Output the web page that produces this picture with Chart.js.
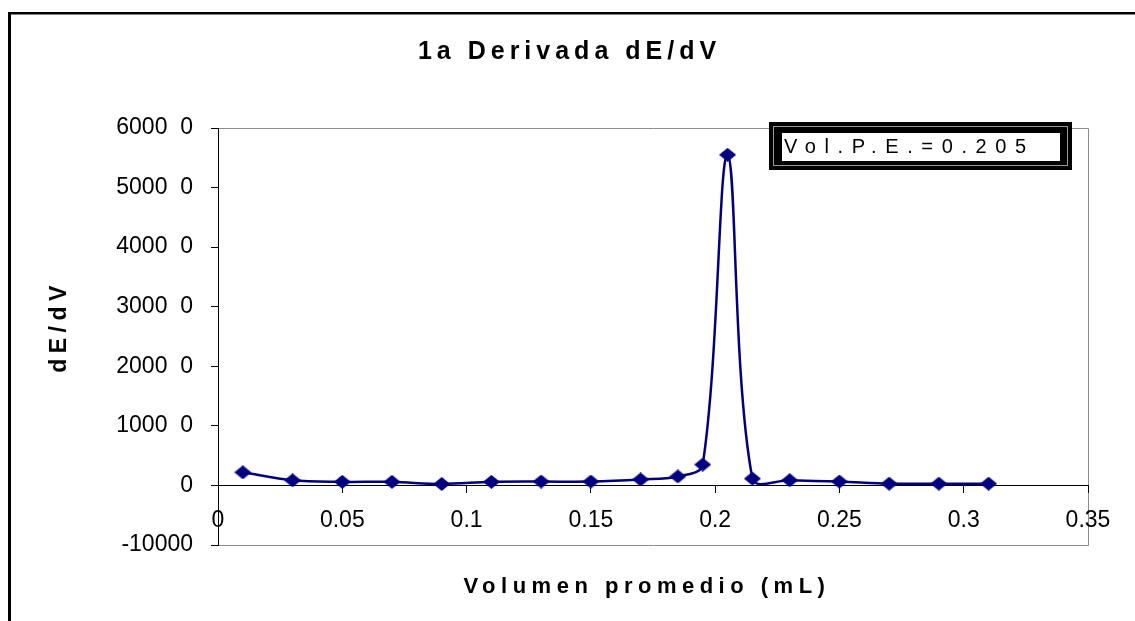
<!DOCTYPE html>
<html>
<head>
<meta charset="utf-8">
<script src="https://cdn.jsdelivr.net/npm/chart.js@4/dist/chart.umd.min.js"></script>
<style>
html, body { margin: 0; padding: 0; background: #ffffff; }
#wrap { width: 1135px; height: 621px; position: relative; }
canvas { display: block; }
</style>
</head>
<body>
<div id="wrap"><canvas id="chart" width="1135" height="621"></canvas></div>
<script>
// ---- data ----
const volumes = [0.01, 0.03, 0.05, 0.07, 0.09, 0.11, 0.13, 0.15, 0.17, 0.185, 0.195, 0.205, 0.215, 0.23, 0.25, 0.27, 0.29, 0.31];
const dEdV    = [2200, 850, 600, 600, 250, 600, 650, 650, 1000, 1500, 3500, 55500, 1150, 870, 650, 300, 300, 300];

const xTickValues = [0, 0.05, 0.1, 0.15, 0.2, 0.25, 0.3, 0.35];
const xTickLabels = ['0', '0.05', '0.1', '0.15', '0.2', '0.25', '0.3', '0.35'];
const yTickValues = [-10000, 0, 10000, 20000, 30000, 40000, 50000, 60000];
const yTickLabels = ['-10000', '0', '1000  0', '2000  0', '3000  0', '4000  0', '5000  0', '6000  0'];

const chartTitle = '1a Derivada dE/dV';
const xAxisTitle = 'Volumen promedio (mL)';
const yAxisTitle = 'dE/dV';
const annotationText = 'Vol.P.E.=0.205';

// ---- styling ----
const FONT = "'Liberation Sans', Arial, Helvetica, sans-serif";
const NAVY = '#000080';
const SPACING = { title: '5px', x: '5.5px', y: '5.5px', note: '8.6px' };
const TITLE_SHIFT = { x: [-6, 0], y: [0, -10] };

function labelFor(values, labels, v) {
  const i = values.findIndex(t => Math.abs(t - v) < 1e-9);
  return i >= 0 ? labels[i] : '';
}

// letter-spaced titles (the reference uses widely spaced lettering)
if (Chart.Title && Chart.Title._element) {
  const T = Chart.Title._element.prototype;
  const od = T.draw;
  T.draw = function () {
    const ctx = this.ctx;
    ctx.save();
    ctx.letterSpacing = SPACING.title;
    ctx.translate(2, 0);
    od.apply(this, arguments);
    ctx.restore();
  };
}
{
  const S = Chart.Scale.prototype;
  const odt = S.drawTitle;
  S.drawTitle = function () {
    const ctx = this.ctx;
    const ax = this.axis === 'x' ? 'x' : 'y';
    ctx.save();
    ctx.letterSpacing = SPACING[ax];
    ctx.translate(TITLE_SHIFT[ax][0], TITLE_SHIFT[ax][1]);
    odt.apply(this, arguments);
    ctx.restore();
  };
}

// diamond marker
function makeDiamond(w, h, color) {
  const c = document.createElement('canvas');
  c.width = w; c.height = h;
  const g = c.getContext('2d');
  g.fillStyle = color;
  g.beginPath();
  g.moveTo(w / 2, 0);
  g.lineTo(w, h / 2);
  g.lineTo(w / 2, h);
  g.lineTo(0, h / 2);
  g.closePath();
  g.fill();
  return c;
}
const diamond = makeDiamond(17, 14, NAVY);

const framePlugin = {
  id: 'frame',
  beforeDraw(chart) {
    const ctx = chart.ctx;
    const a = chart.chartArea;
    ctx.save();
    ctx.fillStyle = '#ffffff';
    ctx.fillRect(0, 0, chart.width, chart.height);
    // outer chart frame (runs off the right and bottom of the picture)
    ctx.fillStyle = '#000000';
    ctx.fillRect(8, 12, 3, chart.height);
    ctx.fillRect(8, 12, chart.width, 2.5);
    // plot-area frame: top, right, bottom in grey
    ctx.strokeStyle = '#8c8c8c';
    ctx.lineWidth = 1;
    ctx.beginPath();
    const l = Math.round(a.left) + 0.5, r = Math.round(a.right) + 0.5;
    const t = Math.round(a.top) + 0.5, b = Math.round(a.bottom) + 0.5;
    ctx.moveTo(l, t); ctx.lineTo(r, t); ctx.lineTo(r, b); ctx.lineTo(l, b);
    ctx.stroke();
    ctx.restore();
  },
  afterDraw(chart) {
    const ctx = chart.ctx;
    const a = chart.chartArea;
    const right = a.right - 16, top = a.top - 6;
    const w = 303, h = 48, left = right - w;
    ctx.save();
    ctx.fillStyle = '#000000';
    ctx.fillRect(left, top, w, h);
    ctx.strokeStyle = '#9a9a9a';
    ctx.lineWidth = 1;
    ctx.strokeRect(left + 4.5, top + 4.5, w - 9, h - 9);
    ctx.fillStyle = '#ffffff';
    ctx.fillRect(left + 13, top + 11, w - 25, h - 20);
    ctx.strokeStyle = '#000000';
    ctx.strokeRect(left + 12.5, top + 10.5, w - 24, h - 19);
    ctx.fillStyle = '#000000';
    ctx.font = '20px ' + FONT;
    ctx.letterSpacing = SPACING.note;
    ctx.textAlign = 'left';
    ctx.textBaseline = 'alphabetic';
    ctx.fillText(annotationText, left + 15, top + 31);
    ctx.restore();
  }
};

Chart.defaults.font.family = FONT;
Chart.defaults.color = '#000000';

new Chart(document.getElementById('chart'), {
  type: 'scatter',
  data: {
    datasets: [{
      label: yAxisTitle,
      data: volumes.map((v, i) => ({ x: v, y: dEdV[i] })),
      showLine: true,
      borderColor: NAVY,
      backgroundColor: NAVY,
      borderWidth: 2.5,
      tension: 0.35,
      pointStyle: diamond,
      pointRadius: 7,
      pointHoverRadius: 7
    }]
  },
  options: {
    responsive: false,
    animation: false,
    devicePixelRatio: 1,
    layout: { padding: { left: 47, right: 47, top: 0, bottom: 76 } },
    plugins: {
      legend: { display: false },
      tooltip: { enabled: false },
      title: {
        display: true,
        text: chartTitle,
        color: '#000000',
        font: { family: FONT, size: 25, weight: 'bold', lineHeight: 1.2 },
        padding: { top: 37, bottom: 61 }
      }
    },
    scales: {
      x: {
        type: 'linear',
        position: { y: 0 },
        min: 0,
        max: 0.35,
        afterBuildTicks(scale) { scale.ticks = xTickValues.map(v => ({ value: v })); },
        ticks: {
          autoSkip: false,
          maxRotation: 0,
          padding: 14,
          color: '#000000',
          font: { family: FONT, size: 23 },
          callback: (v) => labelFor(xTickValues, xTickLabels, v)
        },
        grid: { display: true, drawOnChartArea: false, drawTicks: true, tickLength: 7, color: '#000000', lineWidth: 1 },
        border: { display: true, color: '#000000', width: 1 },
        title: {
          display: true,
          text: xAxisTitle,
          color: '#000000',
          font: { family: FONT, size: 22, weight: 'bold', lineHeight: 1.2 },
          padding: { top: 26, bottom: 0 }
        }
      },
      y: {
        type: 'linear',
        position: 'left',
        min: -10000,
        max: 60000,
        afterBuildTicks(scale) { scale.ticks = yTickValues.map(v => ({ value: v })); },
        afterFit(scale) { scale.width = 171; },
        ticks: {
          padding: 18,
          color: '#000000',
          font: { family: FONT, size: 23 },
          callback: (v) => labelFor(yTickValues, yTickLabels, v)
        },
        grid: { display: true, drawOnChartArea: false, drawTicks: true, tickLength: 7, color: '#000000', lineWidth: 1 },
        border: { display: true, color: '#000000', width: 1 },
        title: {
          display: true,
          text: yAxisTitle,
          color: '#000000',
          font: { family: FONT, size: 23, weight: 'bold', lineHeight: 1.1 },
          padding: { top: 0, bottom: 0 }
        }
      }
    }
  },
  plugins: [framePlugin]
});
</script>
</body>
</html>
